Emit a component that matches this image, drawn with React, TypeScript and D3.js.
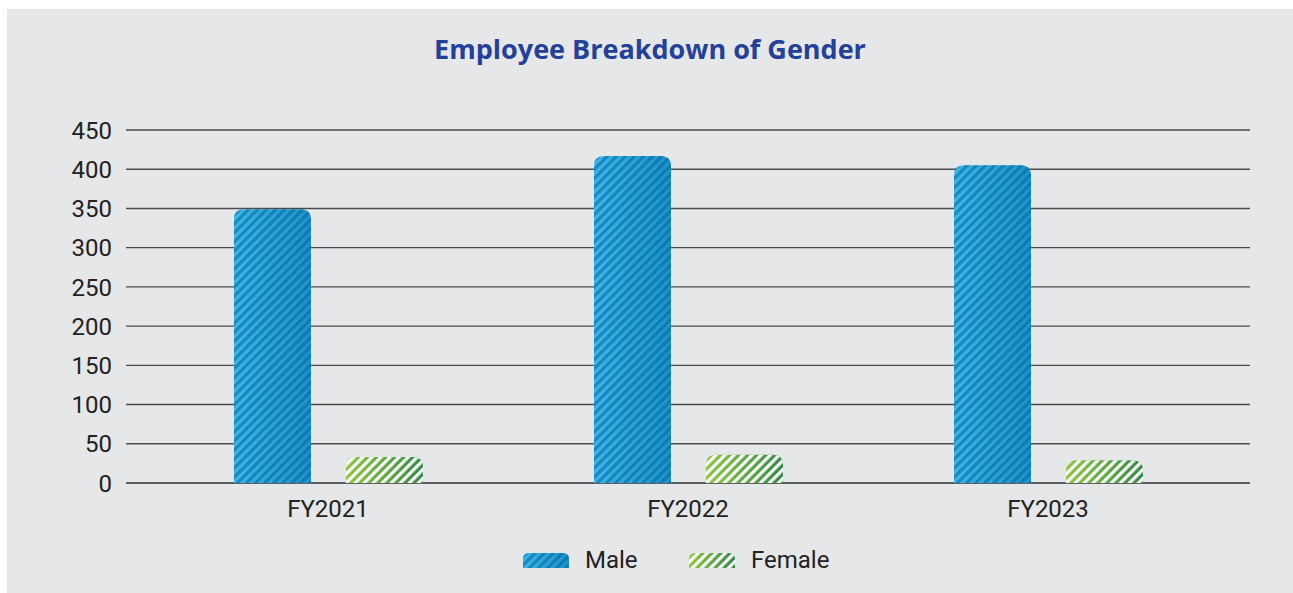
import React from "react";
import * as d3 from "d3";

const categories = ["FY2021", "FY2022", "FY2023"];
const seriesNames = ["Male", "Female"];
const maleValues = [349, 417, 405];
const femaleValues = [33, 36, 29];
const yTicks = [0, 50, 100, 150, 200, 250, 300, 350, 400, 450];
const title = "Employee Breakdown of Gender";

const W = 1293;
const H = 593;
const FONT = "Roboto, 'Noto Sans', sans-serif";

function topRounded(x: number, y: number, w: number, h: number, r: number) {
  const rr = Math.min(r, w / 2, h);
  return `M${x},${y + h} L${x},${y + rr} Q${x},${y} ${x + rr},${y} L${x + w - rr},${y} Q${x + w},${y} ${x + w},${y + rr} L${x + w},${y + h} Z`;
}

export default function App() {
  const left = 126, right = 1250, top = 130, bottom = 483;
  const y = d3.scaleLinear().domain([0, 450]).range([bottom, top]);
  const x0 = d3.scaleBand<string>().domain(categories).range([left, right]).paddingInner(0).paddingOuter(0.061);
  const x1 = d3.scaleBand<string>().domain(seriesNames).range([86, 275]).paddingInner(0.3125).paddingOuter(0);
  const series = [maleValues, femaleValues];
  const fills = ["url(#gMale)", "url(#gFemale)"];
  const stripes = ["url(#pMale)", "url(#pFemale)"];

  return (
    <svg width={W} height={H} style={{ position: "absolute", left: 0, top: 0 }} fontFamily={FONT}>
      <defs>
        <linearGradient id="gMale" x1="0" x2="1" y1="0" y2="0">
          <stop offset="0" stopColor="#3cb8e4" />
          <stop offset="1" stopColor="#1a94c4" />
        </linearGradient>
        <linearGradient id="gFemale" x1="0" x2="1" y1="0" y2="0">
          <stop offset="0" stopColor="#8cc63f" />
          <stop offset="1" stopColor="#2e8a44" />
        </linearGradient>
        <pattern id="pMale" width="6.4" height="6.4" patternUnits="userSpaceOnUse" patternTransform="rotate(45)">
          <rect x="0" y="0" width="3.2" height="6.4" fill="#0665ad" fillOpacity="0.6" />
        </pattern>
        <pattern id="pFemale" width="6.4" height="6.4" patternUnits="userSpaceOnUse" patternTransform="rotate(45)">
          <rect x="0" y="0" width="3.2" height="6.4" fill="#ffffff" />
        </pattern>
      </defs>
      <rect x={7} y={9} width={W - 7} height={H - 9} fill="#e6e7e9" />
      <text x={650} y={59} textAnchor="middle" fontSize={27} fontWeight={700} fill="#23409a" fontFamily="'Open Sans', Roboto, sans-serif">{title}</text>
      {yTicks.map((t) => (
        <g key={t}>
          <line x1={left} x2={right} y1={y(t)} y2={y(t)} stroke={t === 0 ? "#333" : "#4a4a4a"} strokeWidth={1.4} />
          <text x={112} y={y(t)} dy="0.36em" textAnchor="end" fontSize={24} fill="#222">{t}</text>
        </g>
      ))}
      {categories.map((c, i) => (
        <g key={c} transform={`translate(${x0(c)},0)`}>
          {seriesNames.map((s, j) => {
            const v = series[j][i];
            const bx = x1(s)!;
            const bw = x1.bandwidth();
            const by = y(v);
            const bh = bottom - by;
            const d = topRounded(bx, by, bw, bh, 10);
            return (
              <g key={s}>
                <path d={d} fill={fills[j]} />
                <path d={d} fill={stripes[j]} />
              </g>
            );
          })}
          <text x={x0.bandwidth() / 2} y={517} textAnchor="middle" fontSize={24} fill="#222">{c}</text>
        </g>
      ))}
      {seriesNames.map((s, j) => {
        const lx = [523, 689][j];
        const d = topRounded(lx, 553, 46, 15, 6);
        return (
          <g key={s}>
            <path d={d} fill={fills[j]} />
            <path d={d} fill={stripes[j]} />
            <text x={lx + 62} y={568} fontSize={24} fill="#222">{s}</text>
          </g>
        );
      })}
    </svg>
  );
}
